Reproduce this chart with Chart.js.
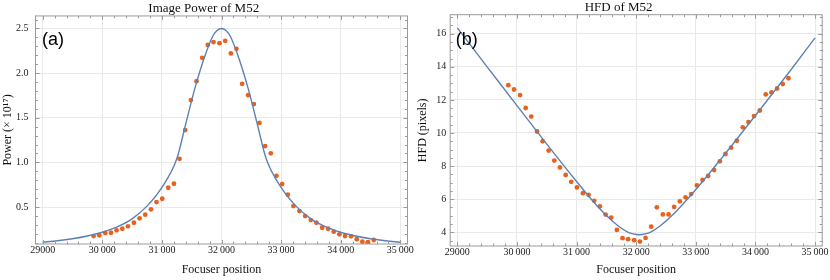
<!DOCTYPE html>
<html>
<head>
<meta charset="utf-8">
<title>M52 focus run</title>
<script src="https://cdn.jsdelivr.net/npm/chart.js@4.4.1/dist/chart.umd.min.js"></script>
<style>
  body { margin: 0; background: #fff; }
  #wrap { position: relative; width: 830px; height: 280px; }
  .box { position: absolute; top: 0; width: 415px; height: 280px; }
</style>
</head>
<body>
<div id="wrap">
  <div class="box" style="left:0"><canvas id="powerChart" width="415" height="280"></canvas></div>
  <div class="box" style="left:415px"><canvas id="hfdChart" width="415" height="280"></canvas></div>
</div>
<script>
// focuser position of every frame
let positions = [29855, 29950, 30051, 30146, 30240, 30336, 30431, 30531, 30626, 30721,
  30817, 30910, 31006, 31107, 31202, 31296, 31391, 31487, 31581, 31676,
  31771, 31866, 31966, 32062, 32157, 32251, 32346, 32447, 32543, 32637,
  32732, 32828, 32922, 33018, 33113, 33207, 33307, 33403, 33498, 33592,
  33688, 33788, 33883, 33977, 34073, 34173, 34269, 34363, 34458, 34554];

// image power, in units of 10^17
let power = [0.175, 0.183, 0.209, 0.212, 0.239, 0.257, 0.284, 0.324, 0.373, 0.414,
  0.474, 0.556, 0.593, 0.716, 0.761, 1.04, 1.362, 1.698, 1.910, 2.171,
  2.316, 2.347, 2.335, 2.361, 2.220, 2.272, 1.880, 1.753, 1.653, 1.443,
  1.183, 1.101, 0.850, 0.757, 0.638, 0.511, 0.455, 0.399, 0.354, 0.324,
  0.268, 0.257, 0.224, 0.194, 0.175, 0.172, 0.139, 0.112, 0.108, 0.131];

// half flux diameter, pixels
let hfd = [12.89, 12.63, 12.29, 11.51, 10.99, 10.09, 9.50, 8.94, 8.33, 7.92,
  7.46, 7.05, 6.71, 6.36, 6.26, 5.90, 5.57, 5.07, 4.89, 4.14,
  3.64, 3.58, 3.52, 3.44, 3.66, 4.34, 5.51, 5.08, 5.08, 5.53,
  5.87, 6.11, 6.31, 6.83, 7.16, 7.40, 7.76, 8.29, 8.73, 9.11,
  9.53, 10.34, 10.66, 11.02, 11.36, 12.33, 12.45, 12.69, 12.96, 13.31];

// fitted curves
let powerFitX = [29000, 29250, 29500, 29750, 30000, 30250, 30500, 30750, 31000, 31250,
  31400, 31550, 31700, 31850, 31925, 32000, 32075, 32150, 32300, 32450,
  32600, 32750, 33000, 33250, 33500, 33750, 34000, 34250, 34500, 34750, 35000];
let powerFitY = [0.106, 0.122, 0.145, 0.176, 0.218, 0.278, 0.368, 0.51, 0.72, 1.04,
  1.43, 1.82, 2.15, 2.41, 2.478, 2.50, 2.478, 2.41, 2.15, 1.82,
  1.43, 1.04, 0.72, 0.51, 0.368, 0.278, 0.218, 0.176, 0.145, 0.122, 0.106];

let hfdFitX = [29000, 29500, 30000, 30500, 31000, 31250, 31500, 31700, 31850, 31950,
  32050, 32150, 32250, 32400, 32600, 32850, 33100, 33600, 34100, 34600, 35000];
let hfdFitY = [16.35, 14.0, 11.65, 9.33, 7.07, 5.98, 5.01, 4.38, 4.03, 3.90,
  3.85, 3.90, 4.03, 4.38, 5.01, 5.97, 7.01, 9.23, 11.52, 13.84, 15.75];

let xTicks = [29000, 30000, 31000, 32000, 33000, 34000, 35000];
let xTickLabels = ['29000', '30\u2009000', '31\u2009000', '32\u2009000', '33\u2009000', '34\u2009000', '35\u2009000'];
let powerTicks = [0.5, 1.0, 1.5, 2.0, 2.5];
let powerTickLabels = ['0.5', '1.0', '1.5', '2.0', '2.5'];
let hfdTicks = [4, 6, 8, 10, 12, 14, 16];
let hfdTickLabels = ['4', '6', '8', '10', '12', '14', '16'];

let serif = "'Liberation Serif', 'Times New Roman', serif";
let blue = '#5e81b5';
let orange = '#e8621c';
let frameColor = '#9a9a9a';
let gridColor = '#e9e9e9';

function steps(from, to, step) {
  let out = [];
  for (let v = from; v <= to + 1e-9; v += step) out.push(+v.toFixed(4));
  return out;
}

function zip(xs, ys) {
  return xs.map((x, i) => ({ x: x, y: ys[i] }));
}

// Mathematica style frame: box with inward ticks on every side
let framePlugin = {
  id: 'frame',
  afterDraw(chart, args, o) {
    let ctx = chart.ctx, a = chart.chartArea;
    let sx = chart.scales.x, sy = chart.scales.y;
    ctx.save();
    ctx.strokeStyle = frameColor;
    ctx.lineWidth = 1;
    ctx.beginPath();
    let line = (x1, y1, x2, y2) => { ctx.moveTo(x1, y1); ctx.lineTo(x2, y2); };
    o.xMinor.forEach(v => {
      let p = Math.round(sx.getPixelForValue(v)) + 0.5;
      let len = xTicks.includes(v) ? 4 : 2.5;
      line(p, a.bottom, p, a.bottom - len);
      line(p, a.top, p, a.top + len);
    });
    o.yMinor.forEach(v => {
      let p = Math.round(sy.getPixelForValue(v)) + 0.5;
      let len = o.yMajor.includes(v) ? 4 : 2.5;
      line(a.left, p, a.left + len, p);
      line(a.right, p, a.right - len, p);
    });
    ctx.stroke();
    ctx.strokeRect(a.left, a.top, a.right - a.left, a.bottom - a.top);
    ctx.fillStyle = '#000';
    ctx.font = "18px 'Liberation Sans', Arial, sans-serif";
    ctx.textBaseline = 'middle';
    ctx.textAlign = 'left';
    ctx.fillText(o.label, a.left + o.labelDx, 40);
    ctx.restore();
  }
};

function makeChart(id, cfg) {
  return new Chart(document.getElementById(id), {
    type: 'scatter',
    data: {
      datasets: [{
        data: zip(cfg.fitX, cfg.fitY),
        showLine: true,
        borderColor: blue,
        borderWidth: 1.4,
        pointRadius: 0,
        cubicInterpolationMode: 'monotone',
        order: 0
      }, {
        data: zip(positions, cfg.values),
        backgroundColor: orange,
        borderWidth: 0,
        pointRadius: 2.4,
        order: 1
      }]
    },
    plugins: [framePlugin],
    options: {
      responsive: false,
      animation: false,
      layout: { padding: { top: 0, right: cfg.padRight, bottom: 0, left: 0 } },
      plugins: {
        legend: { display: false },
        tooltip: { enabled: false },
        title: {
          display: true,
          text: cfg.title,
          color: '#111',
          font: { family: serif, size: 13, weight: 'normal', lineHeight: cfg.titleLH },
          padding: { top: cfg.titleTop, bottom: 0 }
        },
        frame: {
          label: cfg.label,
          labelDx: cfg.labelDx,
          xMinor: steps(29000, 35000, 200),
          yMinor: cfg.yMinor,
          yMajor: cfg.yTicks
        }
      },
      scales: {
        x: {
          type: 'linear',
          min: 28880,
          max: 35120,
          afterBuildTicks: s => { s.ticks = xTicks.map(v => ({ value: v })); },
          afterFit: s => { s.height = cfg.xAxisH; },
          border: { display: false },
          grid: { color: gridColor, drawTicks: false },
          ticks: {
            autoSkip: false,
            maxRotation: 0,
            padding: 0.5,
            color: '#222',
            font: { family: serif, size: 10 },
            callback: v => xTickLabels[xTicks.indexOf(v)]
          },
          title: {
            display: true,
            text: 'Focuser position',
            color: '#111',
            font: { family: serif, size: 12 },
            padding: { top: 0, bottom: 3 }
          }
        },
        y: {
          min: cfg.yMin,
          max: cfg.yMax,
          afterBuildTicks: s => { s.ticks = cfg.yTicks.map(v => ({ value: v })); },
          afterFit: s => { s.width = cfg.yAxisW; },
          border: { display: false },
          grid: { color: gridColor, drawTicks: false },
          ticks: {
            padding: cfg.yPad,
            color: '#222',
            font: { family: serif, size: 10 },
            callback: v => cfg.yLabels[cfg.yTicks.indexOf(v)]
          },
          title: {
            display: true,
            text: cfg.yTitle,
            color: '#111',
            font: { family: serif, size: 12 },
            padding: { top: 0.5, bottom: 0 }
          }
        }
      }
    }
  });
}

makeChart('powerChart', {
  title: 'Image Power of M52',
  titleLH: 1.15, titleTop: 1,
  label: '(a)', labelDx: 6.5,
  values: power, fitX: powerFitX, fitY: powerFitY,
  yMin: 0.086, yMax: 2.64,
  yTicks: powerTicks, yLabels: powerTickLabels,
  yMinor: steps(0.1, 2.6, 0.1),
  yTitle: 'Power (\u00d7 10\u00b9\u2077)',
  yAxisW: 35.5, yPad: 7, xAxisH: 36, padRight: 7.5
});

makeChart('hfdChart', {
  title: 'HFD of M52',
  titleLH: 1.13, titleTop: 0,
  label: '(b)', labelDx: 5.5,
  values: hfd, fitX: hfdFitX, fitY: hfdFitY,
  yMin: 3.17, yMax: 17.15,
  yTicks: hfdTicks, yLabels: hfdTickLabels,
  yMinor: steps(3.5, 17, 0.5),
  yTitle: 'HFD (pixels)',
  yAxisW: 35.2, yPad: 4, xAxisH: 34, padRight: 7.8
});
</script>
</body>
</html>
